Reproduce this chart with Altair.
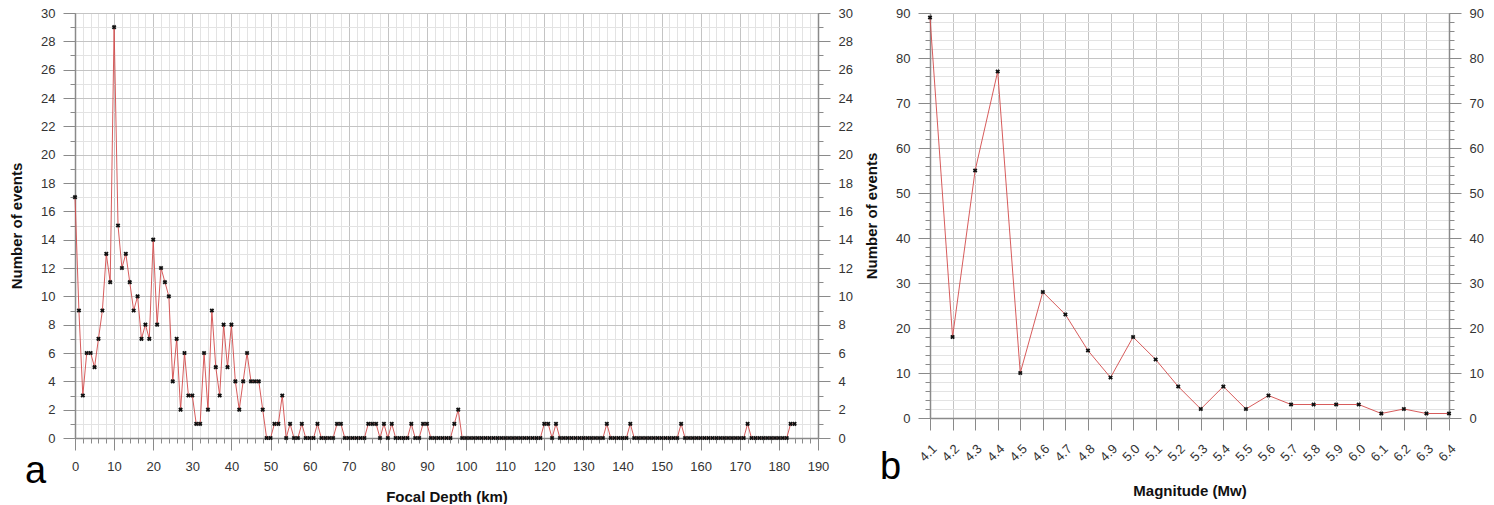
import altair as alt
import pandas as pd

# ---------------- data ----------------
depth_km = list(range(0, 185))
depth_events = [
    17, 9, 3, 6, 6, 5, 7, 9, 13, 11,
    29, 15, 12, 13, 11, 9, 10, 7, 8, 7,
    14, 8, 12, 11, 10, 4, 7, 2, 6, 3,
    3, 1, 1, 6, 2, 9, 5, 3, 8, 5,
    8, 4, 2, 4, 6, 4, 4, 4, 2, 0,
    0, 1, 1, 3, 0, 1, 0, 0, 1, 0,
    0, 0, 1, 0, 0, 0, 0, 1, 1, 0,
    0, 0, 0, 0, 0, 1, 1, 1, 0, 1,
    0, 1, 0, 0, 0, 0, 1, 0, 0, 1,
    1, 0, 0, 0, 0, 0, 0, 1, 2, 0,
    0, 0, 0, 0, 0, 0, 0, 0, 0, 0,
    0, 0, 0, 0, 0, 0, 0, 0, 0, 0,
    1, 1, 0, 1, 0, 0, 0, 0, 0, 0,
    0, 0, 0, 0, 0, 0, 1, 0, 0, 0,
    0, 0, 1, 0, 0, 0, 0, 0, 0, 0,
    0, 0, 0, 0, 0, 1, 0, 0, 0, 0,
    0, 0, 0, 0, 0, 0, 0, 0, 0, 0,
    0, 0, 1, 0, 0, 0, 0, 0, 0, 0,
    0, 0, 0, 1, 1,
]

magnitude = [4.1, 4.2, 4.3, 4.4, 4.5, 4.6, 4.7, 4.8, 4.9, 5.0, 5.1, 5.2,
             5.3, 5.4, 5.5, 5.6, 5.7, 5.8, 5.9, 6.0, 6.1, 6.2, 6.3, 6.4]
magnitude_events = [89, 18, 55, 77, 10, 28, 23, 15, 9, 18, 13, 7,
                    2, 7, 2, 5, 3, 3, 3, 3, 1, 2, 1, 1]

# tick values
depth_major = [0, 10, 20, 30, 40, 50, 60, 70, 80, 90, 100, 110, 120, 130,
               140, 150, 160, 170, 180, 190]
depth_minor = [0, 2, 4, 6, 8, 10, 12, 14, 16, 18, 20, 22, 24, 26, 28, 30, 32, 34, 36, 38,
               40, 42, 44, 46, 48, 50, 52, 54, 56, 58, 60, 62, 64, 66, 68, 70, 72, 74, 76, 78,
               80, 82, 84, 86, 88, 90, 92, 94, 96, 98, 100, 102, 104, 106, 108, 110, 112, 114,
               116, 118, 120, 122, 124, 126, 128, 130, 132, 134, 136, 138, 140, 142, 144, 146,
               148, 150, 152, 154, 156, 158, 160, 162, 164, 166, 168, 170, 172, 174, 176, 178,
               180, 182, 184, 186, 188, 190]
count_a_major = [0, 2, 4, 6, 8, 10, 12, 14, 16, 18, 20, 22, 24, 26, 28, 30]
count_a_minor = list(range(0, 31))
count_b_major = [0, 10, 20, 30, 40, 50, 60, 70, 80, 90]
count_b_minor = list(range(0, 91, 2))

FONT = "Liberation Sans"
MAJOR_GRID = "#c4c4c4"
MINOR_GRID = "#e3e3e3"
AXIS_COL = "#8a8a8a"
LINE_COL = "#d24a4a"
LABEL_COL = "#333333"
LABEL_SIZE = 13
TITLE_SIZE = 15


def panel(df, xf, yf, xdom, ydom, w, h, x_major, x_minor, y_major, y_minor,
          x_title, y_title, letter, letter_xy, x_angle=0, x_fmt="d",
          x_label_pad=10, x_title_pad=16):
    base = alt.Chart(df)
    layers = []
    # minor grid + minor ticks (left / bottom)
    if x_minor is not None:
        xax_minor = alt.Axis(values=x_minor, grid=True, gridColor=MINOR_GRID, gridWidth=1,
                             ticks=True, tickSize=5, tickColor=AXIS_COL, labels=False,
                             domain=False, title=None, orient="bottom")
    else:
        xax_minor = None
    layers.append(base.mark_point(opacity=0).encode(
        x=alt.X(f"{xf}:Q", scale=alt.Scale(domain=xdom, nice=False, zero=False), axis=xax_minor),
        y=alt.Y(f"{yf}:Q", scale=alt.Scale(domain=ydom, nice=False),
                axis=alt.Axis(values=y_minor, grid=True, gridColor=MINOR_GRID, gridWidth=1,
                              ticks=True, tickSize=5, tickColor=AXIS_COL, labels=False,
                              domain=False, title=None, orient="left")),
    ))
    # major grid, labels, titles
    layers.append(base.mark_point(opacity=0).encode(
        x=alt.X(f"{xf}:Q", scale=alt.Scale(domain=xdom, nice=False, zero=False),
                axis=alt.Axis(values=x_major, grid=True, gridColor=MAJOR_GRID, gridWidth=1,
                              tickSize=12, tickColor=AXIS_COL, domainColor=AXIS_COL,
                              domainWidth=1.5, labelPadding=x_label_pad, labelAngle=x_angle,
                              labelAlign="center" if x_angle == 0 else "right",
                              labelBaseline="top",
                              labelFont=FONT, labelFontSize=LABEL_SIZE, labelColor=LABEL_COL,
                              titleFont=FONT, titleFontSize=TITLE_SIZE, titleFontWeight="bold",
                              titleColor="#111111",
                              format=x_fmt, title=x_title, titlePadding=x_title_pad,
                              orient="bottom")),
        y=alt.Y(f"{yf}:Q", scale=alt.Scale(domain=ydom, nice=False),
                axis=alt.Axis(values=y_major, grid=True, gridColor=MAJOR_GRID, gridWidth=1,
                              tickSize=12, tickColor=AXIS_COL, domainColor=AXIS_COL,
                              domainWidth=1.5, labelPadding=8,
                              labelFont=FONT, labelFontSize=LABEL_SIZE, labelColor=LABEL_COL,
                              titleFont=FONT, titleFontSize=TITLE_SIZE, titleFontWeight="bold",
                              titleColor="#111111",
                              title=y_title, titlePadding=16, orient="left")),
    ))
    # right axis minor ticks
    layers.append(base.mark_point(opacity=0).encode(
        x=alt.X(f"{xf}:Q", scale=alt.Scale(domain=xdom, nice=False, zero=False), axis=None),
        y=alt.Y(f"{yf}:Q", scale=alt.Scale(domain=ydom, nice=False),
                axis=alt.Axis(values=y_minor, grid=False, ticks=True, tickSize=5,
                              tickColor=AXIS_COL, labels=False, domain=False, title=None,
                              orient="right")),
    ))
    # right axis major ticks + labels
    layers.append(base.mark_point(opacity=0).encode(
        x=alt.X(f"{xf}:Q", scale=alt.Scale(domain=xdom, nice=False, zero=False), axis=None),
        y=alt.Y(f"{yf}:Q", scale=alt.Scale(domain=ydom, nice=False),
                axis=alt.Axis(values=y_major, grid=False, tickSize=12, tickColor=AXIS_COL,
                              domainColor=AXIS_COL, domainWidth=1.5, labelPadding=8,
                              labelFont=FONT, labelFontSize=LABEL_SIZE, labelColor=LABEL_COL,
                              title=None, orient="right")),
    ))
    # data line + markers
    layers.append(base.mark_line(color=LINE_COL, strokeWidth=0.9).encode(
        x=alt.X(f"{xf}:Q", scale=alt.Scale(domain=xdom, nice=False, zero=False), axis=None),
        y=alt.Y(f"{yf}:Q", scale=alt.Scale(domain=ydom, nice=False), axis=None),
    ))
    layers.append(base.mark_point(shape="cross", angle=45, filled=True, color="#111111",
                                  size=22, opacity=1).encode(
        x=alt.X(f"{xf}:Q", scale=alt.Scale(domain=xdom, nice=False, zero=False), axis=None),
        y=alt.Y(f"{yf}:Q", scale=alt.Scale(domain=ydom, nice=False), axis=None),
    ))
    # panel letter
    layers.append(alt.Chart(pd.DataFrame({"t": [letter]})).mark_text(
        font=FONT, fontSize=38, color="black", align="left", baseline="alphabetic"
    ).encode(x=alt.value(letter_xy[0]), y=alt.value(letter_xy[1]), text="t:N"))

    return alt.layer(*layers).resolve_scale(x="independent", y="independent").resolve_axis(
        x="independent", y="independent").properties(width=w, height=h)


df_a = pd.DataFrame({"depth": depth_km, "events": depth_events})
df_b = pd.DataFrame({"mag": magnitude, "events": magnitude_events})

panel_a = panel(df_a, "depth", "events", [0, 190], [0, 30], 743, 425,
                depth_major, depth_minor, count_a_major, count_a_minor,
                "Focal Depth (km)", "Number of events", "a", (-50, 470),
                x_label_pad=10, x_title_pad=16)
panel_b = panel(df_b, "mag", "events", [4.1, 6.4], [0, 90], 519, 405,
                magnitude, None, count_b_major, count_b_minor,
                "Magnitude (Mw)", "Number of events", "b", (-50, 466),
                x_angle=-45, x_fmt=".1f", x_label_pad=12, x_title_pad=20)

chart = alt.hconcat(panel_a, panel_b, spacing=11).properties(
    padding={"left": 9, "top": 7, "right": 5, "bottom": 0},
    background="white",
).configure_view(stroke=None)

chart.save("out.html", embed_options={"renderer": "svg", "actions": False})
